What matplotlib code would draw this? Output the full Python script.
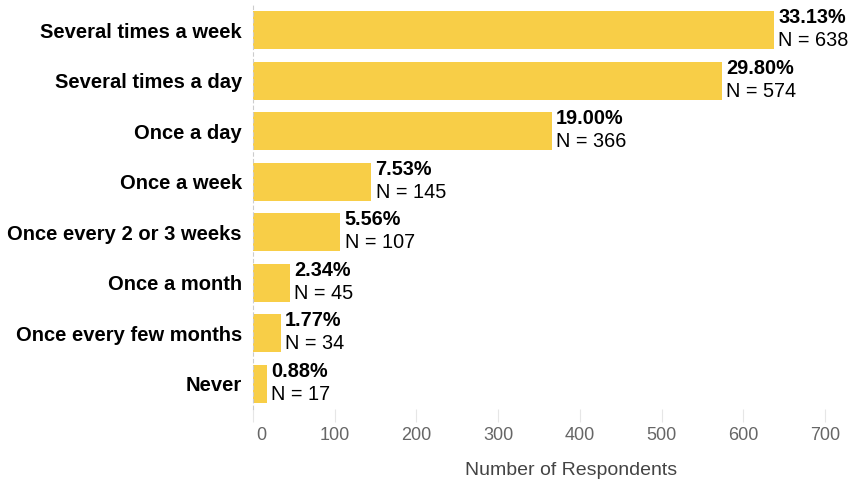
import numpy as np
import matplotlib.pyplot as plt
import matplotlib.transforms as mtransforms

plt.rcParams['font.family'] = ['Liberation Sans', 'DejaVu Sans']

# Survey answers, top to bottom
categories = ['Several times a week', 'Several times a day', 'Once a day',
              'Once a week', 'Once every 2 or 3 weeks', 'Once a month',
              'Once every few months', 'Never']
counts = [638, 574, 366, 145, 107, 45, 34, 17]
x_ticks = [0, 100, 200, 300, 400, 500, 600, 700]

total = sum(counts)
percents = [100 * c / total for c in counts]

bar_color = '#F8CE47'

fig = plt.figure(figsize=(8.65, 4.8), dpi=100)
ax = fig.add_axes([253 / 865, 1 - 409 / 480, 572 / 865, 404 / 480])

y = np.arange(len(categories))
ax.barh(y, counts, height=0.75, color=bar_color, zorder=2)

# value labels: bold percent on top, N below
for yi, c, p in zip(y, counts, percents):
    ax.text(c + 5, yi - 0.25, f'{p:.2f}%', va='center', ha='left',
            fontsize=14.3, fontweight='bold', color='black')
    ax.text(c + 5, yi + 0.21, f'N = {c}', va='center', ha='left',
            fontsize=14.3, color='black')

ax.set_ylim(len(categories) - 0.5, -0.5)
ax.set_xlim(0, 700)
ax.set_yticks(y)
ax.set_yticklabels(categories, fontsize=14.5, fontweight='bold')
ax.tick_params(axis='y', length=0, pad=8)

ax.set_xticks(x_ticks)
ax.tick_params(axis='x', length=9, width=0.8, color='#e6e6e6',
               labelsize=13, labelcolor='#666666', pad=4)
# first label sits a little right of its tick
offset = mtransforms.ScaledTranslation(8 / 100, 0, fig.dpi_scale_trans)
first = ax.get_xticklabels()[0]
first.set_transform(first.get_transform() + offset)

for s in ['top', 'right', 'bottom']:
    ax.spines[s].set_visible(False)
ax.spines['left'].set_linestyle((0, (3, 3)))
ax.spines['left'].set_color('#cccccc')
ax.spines['left'].set_linewidth(0.8)

ax.set_xlabel('Number of Respondents', fontsize=14, color='#444444')
ax.xaxis.set_label_coords((571 - 253) / 572, -0.13)

fig.savefig('out.png', dpi=100)
